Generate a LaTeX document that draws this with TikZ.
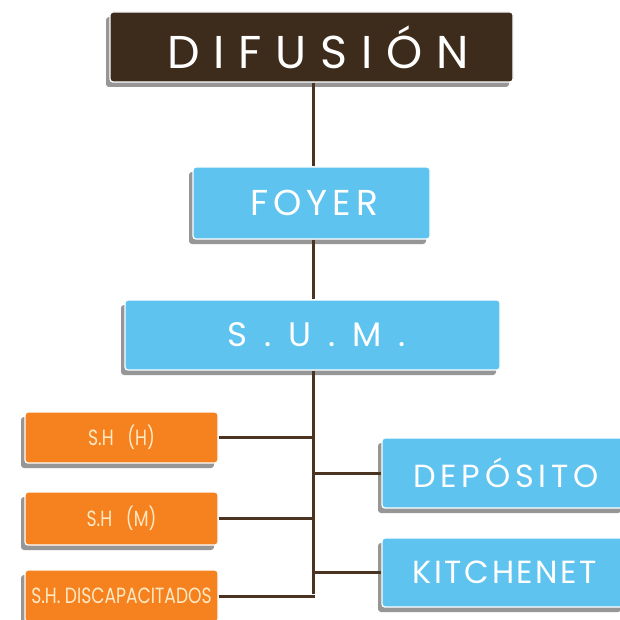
\documentclass[tikz,border=0pt]{standalone}
\usepackage{fontspec}
\setmainfont{Poppins}
\newfontfamily\narrowfont[FakeStretch=0.78]{Poppins}
\usetikzlibrary{shadows}
\definecolor{cafe}{HTML}{3D2B1B}
\definecolor{linea}{HTML}{4A3320}
\definecolor{celeste}{HTML}{5EC3EE}
\definecolor{naranja}{HTML}{F5821F}
\definecolor{crema}{HTML}{FFE9C4}
\tikzset{
  caja/.style={rectangle, rounded corners=3pt, draw=white, line width=1.3pt,
    text=white, inner sep=0pt,
    drop shadow={shadow xshift=-4pt, shadow yshift=-5pt, fill=black!75, opacity=0.55}},
  titulo/.style={caja, fill=cafe},
  azul/.style={caja, fill=celeste},
  anaranjada/.style={caja, fill=naranja, text=crema},
  enlace/.style={draw=linea, line width=3pt}
}
\begin{document}
\begin{tikzpicture}[x=1pt, y=-1pt]
  \useasboundingbox (0,0) rectangle (620,620);
  \clip (0,0) rectangle (620,620);
  \fill[white] (0,0) rectangle (620,620);

  % trunk position and bottom of the bus
  \coordinate (tronco) at (313,0);
  \coordinate (bus) at (313,595);

  % boxes
  \node[titulo, minimum width=403pt, minimum height=70pt] (dif) at (311.5,47)
    {\fontsize{46}{46}\selectfont\addfontfeatures{LetterSpace=30}\hspace*{13pt}DIFUSIÓN};
  \node[azul, minimum width=237pt, minimum height=72pt] (foyer) at (311.5,203)
    {\fontsize{36}{36}\selectfont\addfontfeatures{LetterSpace=14}\hspace*{5pt}FOYER};
  \node[azul, minimum width=375pt, minimum height=70pt] (sum) at (312.5,335)
    {\fontsize{34}{34}\selectfont\addfontfeatures{LetterSpace=23}\hspace*{8pt}S . U . M .};

  \node[anaranjada, minimum width=193pt, minimum height=51pt] (shh) at (121.5,437.5)
    {\narrowfont\fontsize{22}{22}\selectfont S.H\ \ \ (H)};
  \node[anaranjada, minimum width=193pt, minimum height=53pt] (shm) at (121.5,518.5)
    {\narrowfont\fontsize{22}{22}\selectfont S.H\ \ \ (M)};
  \node[anaranjada, minimum width=193pt, minimum height=52pt] (shd) at (121.5,596)
    {\narrowfont\fontsize{22}{22}\selectfont S.H.\ DISCAPACITADOS};

  \node[azul, minimum width=243pt, minimum height=70pt] (dep) at (503.5,473)
    {\fontsize{32}{32}\selectfont\addfontfeatures{LetterSpace=15}\hspace*{5pt}DEPÓSITO};
  \node[azul, minimum width=243pt, minimum height=69pt] (kit) at (503.5,572.5)
    {\fontsize{32}{32}\selectfont\addfontfeatures{LetterSpace=8}\hspace*{3pt}KITCHENET};

  % connectors
  \draw[enlace] (dif.south -| tronco) -- (foyer.north -| tronco);
  \draw[enlace] (foyer.south -| tronco) -- (sum.north -| tronco);
  \draw[enlace] (sum.south -| tronco) -- ([yshift=1.5pt]bus);
  \draw[enlace] (shh.east) -- (shh.east -| bus);
  \draw[enlace] (shm.east) -- (shm.east -| bus);
  \draw[enlace] (shd.east) -- ([xshift=1.5pt]shd.east -| bus);
  \draw[enlace] (dep.west) -- (dep.west -| bus);
  \draw[enlace] (kit.west) -- (kit.west -| bus);
\end{tikzpicture}
\end{document}
